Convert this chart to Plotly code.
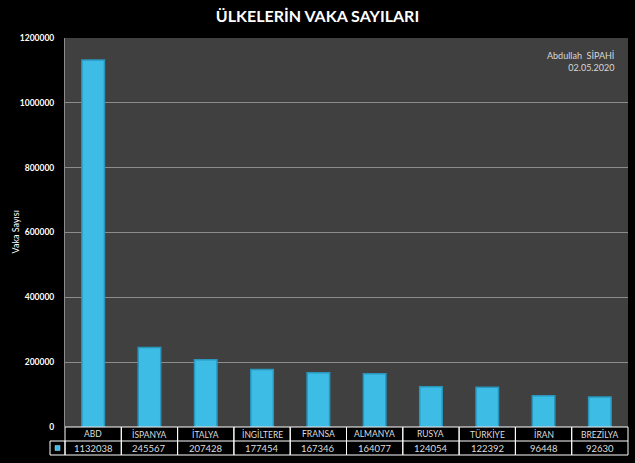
import plotly.graph_objects as go

# Ülke bazında vaka sayıları (02.05.2020)
ulkeler = ['ABD', 'İSPANYA', 'İTALYA', 'İNGİLTERE', 'FRANSA', 'ALMANYA', 'RUSYA', 'TÜRKİYE', 'İRAN', 'BREZİLYA']
vaka_sayilari = [1132038, 245567, 207428, 177454, 167346, 164077, 124054, 122392, 96448, 92630]
y_ticks = [0, 200000, 400000, 600000, 800000, 1000000, 1200000]

bar_renk = '#3DBDE5'
yazi_font = 'Lato'
tablo_yazi = '#dedede'

# çizim alanı yüksekliği (px) -> tablo satırlarını paper birimine çevirmek için
alan_yuk = 463 - 38 - 36
satir = 14 / alan_yuk
n = len(ulkeler)

fig = go.Figure()

fig.add_trace(go.Bar(
    x=ulkeler,
    y=vaka_sayilari,
    marker=dict(color=bar_renk, line=dict(color='#2896BD', width=1.5)),
    showlegend=False,
))

# Grafiğin altındaki veri tablosu (Excel tarzı)
for i, (ulke, deger) in enumerate(zip(ulkeler, vaka_sayilari)):
    fig.add_shape(type='rect', xref='paper', yref='paper',
                  x0=i / n, x1=(i + 1) / n, y0=-2 * satir, y1=0,
                  line=dict(color='white', width=1))
    fig.add_annotation(text=ulke, xref='x', yref='paper', x=ulke, y=-0.5 * satir,
                       showarrow=False, yanchor='middle',
                       font=dict(family=yazi_font, size=8.5, color=tablo_yazi))
    fig.add_annotation(text=str(deger), xref='x', yref='paper', x=ulke, y=-1.5 * satir,
                       showarrow=False, yanchor='middle',
                       font=dict(family=yazi_font, size=9.5, color=tablo_yazi))

fig.add_shape(type='line', xref='paper', yref='paper', x0=0, x1=1,
              y0=-satir, y1=-satir, line=dict(color='white', width=1))
# seri anahtarı hücresi
fig.add_shape(type='rect', xref='paper', yref='paper',
              x0=-15 / 563, x1=0, y0=-2 * satir, y1=-satir,
              line=dict(color='white', width=1))
fig.add_shape(type='rect', xref='paper', yref='paper',
              x0=-10 / 563, x1=-5 / 563, y0=-1.68 * satir, y1=-1.32 * satir,
              fillcolor=bar_renk, line=dict(color='#9fe3f7', width=0.5))

fig.add_annotation(
    text='Abdullah  SİPAHİ<br>02.05.2020',
    xref='paper', yref='paper', x=0.978, y=0.975,
    xanchor='right', yanchor='top', align='right', showarrow=False,
    font=dict(family=yazi_font, size=9, color='#d8d8d8'),
)

# y ekseni başlığı
fig.add_annotation(
    text='Vaka Sayısı', textangle=-90,
    xref='paper', yref='paper', x=(15 - 65) / 563, y=0.5,
    xanchor='center', yanchor='middle', showarrow=False,
    font=dict(family=yazi_font, size=9, color='white'),
)

fig.update_layout(
    width=635, height=463,
    margin=dict(l=65, r=7, t=38, b=36, autoexpand=False),
    paper_bgcolor='black',
    plot_bgcolor='#404040',
    bargap=0.6,
    title=dict(text='<b>ÜLKELERİN VAKA SAYILARI</b>', x=0.5, xanchor='center',
               y=0.965, yanchor='middle',
               font=dict(family=yazi_font, size=16, color='white')),
    xaxis=dict(showticklabels=False, showgrid=False,
               zeroline=False, fixedrange=True, automargin=False),
    yaxis=dict(range=[0, 1200000], tickvals=y_ticks,
               tickformat='d', showgrid=True, gridcolor='#8c8c8c', gridwidth=1,
               showline=True, linecolor='#8c8c8c', linewidth=1,
               zeroline=False,
               tickfont=dict(family=yazi_font, size=8.5, color='white', weight='bold'),
               ticks='', ticklabelstandoff=8, automargin=False),
)

# sayfa kenar boşluğunu kaldır (tarayıcı varsayılanı 8px)
fig.write_html('out.html', config={'displayModeBar': False},
               post_script="document.body.style.margin='0';")
